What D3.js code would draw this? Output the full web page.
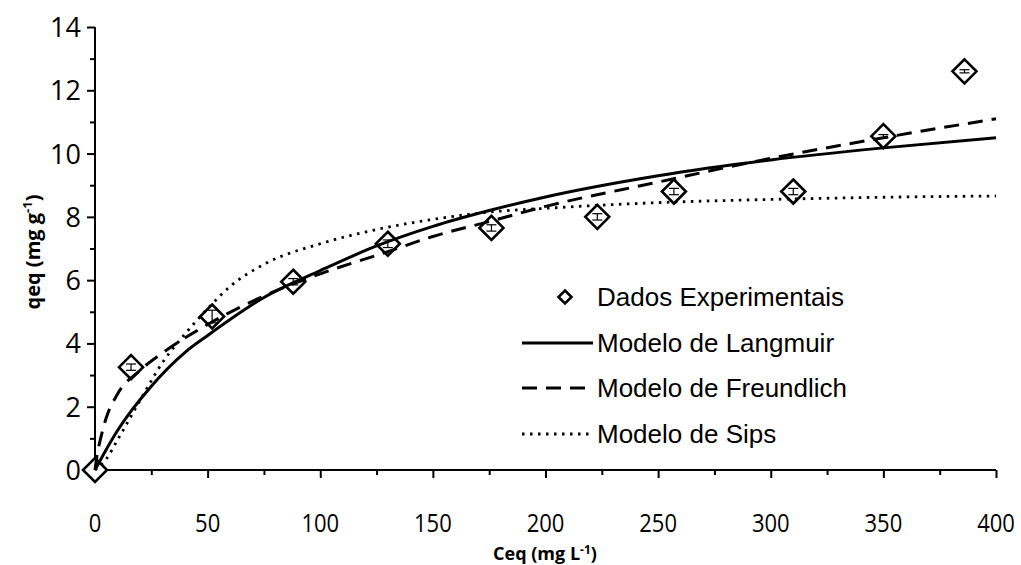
<!DOCTYPE html>
<html>
<head>
<meta charset="utf-8">
<script src="https://cdn.jsdelivr.net/npm/d3@7"></script>
<style>
  body { margin: 0; background: #fff; }
  svg { display: block; }
  .tick-label { font-family: "Open Sans", sans-serif; font-size: 27px; fill: #000; }
  .x-label { font-size: 25px; }
  .axis-title { font-family: "Open Sans", sans-serif; font-size: 18px; font-weight: bold; fill: #000; }
  .legend-text { font-family: "Liberation Sans", Arial, sans-serif; font-size: 26px; fill: #000; }
</style>
</head>
<body>
<div id="chart"></div>
<script>
// experimental points
const ceqData = [0, 16, 52, 88, 130, 176, 223, 257, 310, 350, 386];
const qeqData = [0, 3.25, 4.85, 5.95, 7.15, 7.65, 8.0, 8.8, 8.8, 10.55, 12.6];
const errData = [0, 0.1, 0.2, 0.1, 0.12, 0.1, 0.1, 0.1, 0.1, 0.05, 0.05];

// model curves
const langmuirC = [0, 5, 10, 25, 40, 50, 75, 100, 125, 150, 175, 200, 250, 300, 350, 400];
const langmuirQ = [0, 0.65, 1.25, 2.65, 3.72, 4.25, 5.45, 6.3, 7.08, 7.7, 8.2, 8.63, 9.3, 9.8, 10.18, 10.5];

const freundlichC = [0, 1, 2.5, 5, 10, 20, 30, 50, 75, 100, 130, 150, 175, 200, 250, 300, 350, 400];
const freundlichQ = [0, 0.5, 1.0, 1.65, 2.4, 3.15, 3.7, 4.6, 5.5, 6.2, 6.9, 7.38, 7.85, 8.33, 9.1, 9.85, 10.5, 11.1];

const sipsC = [0, 5, 10, 20, 30, 40, 50, 60, 75, 100, 125, 150, 175, 200, 250, 300, 350, 400];
const sipsQ = [0, 0.35, 0.95, 2.2, 3.4, 4.3, 5.1, 5.8, 6.5, 7.15, 7.6, 7.92, 8.15, 8.27, 8.45, 8.55, 8.62, 8.66];

const xTicks = [0, 50, 100, 150, 200, 250, 300, 350, 400];
const yTicks = [0, 2, 4, 6, 8, 10, 12, 14];
const legendLabels = ["Dados Experimentais", "Modelo de Langmuir", "Modelo de Freundlich", "Modelo de Sips"];

const width = 1021, height = 565;

const svg = d3.select("#chart").append("svg")
    .attr("width", width)
    .attr("height", height);

const x = d3.scaleLinear().domain([0, 400]).range([95, 996]);
const y = d3.scaleLinear().domain([0, 14]).range([470, 27]);

// axes (major + minor ticks, labels drawn separately)
const xAxis = svg.append("g")
    .attr("transform", "translate(0," + y(0) + ")")
    .call(d3.axisBottom(x).tickValues(d3.range(0, 401, 25)).tickSize(5).tickFormat(""));
xAxis.selectAll(".tick line")
    .attr("y2", (d) => d % 50 === 0 ? 8 : 5);

const yAxis = svg.append("g")
    .attr("transform", "translate(" + x(0) + ",0)")
    .call(d3.axisLeft(y).tickValues(d3.range(0, 15, 1)).tickSize(5).tickFormat(""));
yAxis.selectAll(".tick line")
    .attr("x2", (d) => d % 2 === 0 ? -8 : -5);

svg.selectAll(".domain, .tick line")
    .attr("stroke", "#000")
    .attr("stroke-width", 2);
xAxis.select(".domain").attr("d", "M" + x(0) + ",0H" + x(400));
yAxis.select(".domain").attr("d", "M0," + y(0) + "V" + y(14));

svg.selectAll(".x-label")
    .data(xTicks)
    .enter().append("text")
    .attr("class", "tick-label x-label")
    .attr("transform", (d) => "translate(" + x(d) + ",532) scale(0.88,1)")
    .attr("text-anchor", "middle")
    .text((d) => d);

svg.selectAll(".y-label")
    .data(yTicks)
    .enter().append("text")
    .attr("class", "tick-label")
    .attr("x", 81)
    .attr("y", (d) => y(d) + 10)
    .attr("text-anchor", "end")
    .text((d) => d);

// axis titles
const xt = svg.append("text")
    .attr("class", "axis-title")
    .attr("x", 545)
    .attr("y", 559.5)
    .attr("text-anchor", "middle");
xt.append("tspan").text("Ceq (mg L");
xt.append("tspan").attr("dy", -6).style("font-size", "12px").text("-1");
xt.append("tspan").attr("dy", 6).text(")");

const yt = svg.append("text")
    .attr("class", "axis-title")
    .attr("transform", "translate(40,252) rotate(-90)")
    .attr("text-anchor", "middle")
    .style("font-size", "20px");
yt.append("tspan").text("qeq (mg g");
yt.append("tspan").attr("dy", -8).style("font-size", "13px").text("-1");
yt.append("tspan").attr("dy", 8).text(")");

// experimental points
const points = ceqData.map((c, i) => ({ c: c, q: qeqData[i], e: errData[i] }));

function diamond(r) {
  return "M0," + (-r) + "L" + r + ",0L0," + r + "L" + (-r) + ",0Z";
}

const pts = svg.append("g").attr("class", "points")
    .selectAll("g")
    .data(points)
    .enter().append("g")
    .attr("transform", (d) => "translate(" + x(d.c) + "," + y(d.q) + ")");

pts.append("path")
    .attr("d", diamond(12))
    .attr("fill", "#fff")
    .attr("stroke", "#000")
    .attr("stroke-width", 2.6);

const err = pts.filter((d) => d.e > 0);
err.append("line")
    .attr("x1", 0).attr("x2", 0)
    .attr("y1", (d) => y(d.q + d.e) - y(d.q))
    .attr("y2", (d) => y(d.q - d.e) - y(d.q))
    .attr("stroke", "#000").attr("stroke-width", 1.2);
err.append("line")
    .attr("x1", -5).attr("x2", 5)
    .attr("y1", (d) => y(d.q + d.e) - y(d.q))
    .attr("y2", (d) => y(d.q + d.e) - y(d.q))
    .attr("stroke", "#000").attr("stroke-width", 1.2);
err.append("line")
    .attr("x1", -5).attr("x2", 5)
    .attr("y1", (d) => y(d.q - d.e) - y(d.q))
    .attr("y2", (d) => y(d.q - d.e) - y(d.q))
    .attr("stroke", "#000").attr("stroke-width", 1.2);

// model lines
const line = d3.line()
    .x((d) => x(d[0]))
    .y((d) => y(d[1]))
    .curve(d3.curveMonotoneX);

const models = [
  { c: langmuirC, q: langmuirQ, dash: null, w: 3 },
  { c: freundlichC, q: freundlichQ, dash: "15,9", w: 3 },
  { c: sipsC, q: sipsQ, dash: "2.5,5.5", w: 2.8 }
];

svg.append("g").attr("class", "models")
    .selectAll("path")
    .data(models)
    .enter().append("path")
    .attr("d", (m) => line(m.c.map((c, i) => [c, m.q[i]])))
    .attr("fill", "none")
    .attr("stroke", "#000")
    .attr("stroke-width", (m) => m.w)
    .attr("stroke-dasharray", (m) => m.dash);

// legend
const legendY = [297, 343, 388, 434];
const legend = svg.append("g").attr("class", "legend");

legend.append("path")
    .attr("transform", "translate(565," + legendY[0] + ")")
    .attr("d", diamond(6.5))
    .attr("fill", "#fff")
    .attr("stroke", "#000")
    .attr("stroke-width", 2.6);

legend.selectAll("line")
    .data(models)
    .enter().append("line")
    .attr("x1", 522).attr("x2", 593)
    .attr("y1", (m, i) => legendY[i + 1])
    .attr("y2", (m, i) => legendY[i + 1])
    .attr("stroke", "#000")
    .attr("stroke-width", (m) => m.w)
    .attr("stroke-dasharray", (m) => m.dash);

legend.selectAll("text")
    .data(legendLabels)
    .enter().append("text")
    .attr("class", "legend-text")
    .attr("x", 597)
    .attr("y", (d, i) => legendY[i] + 9)
    .text((d) => d);
</script>
</body>
</html>
